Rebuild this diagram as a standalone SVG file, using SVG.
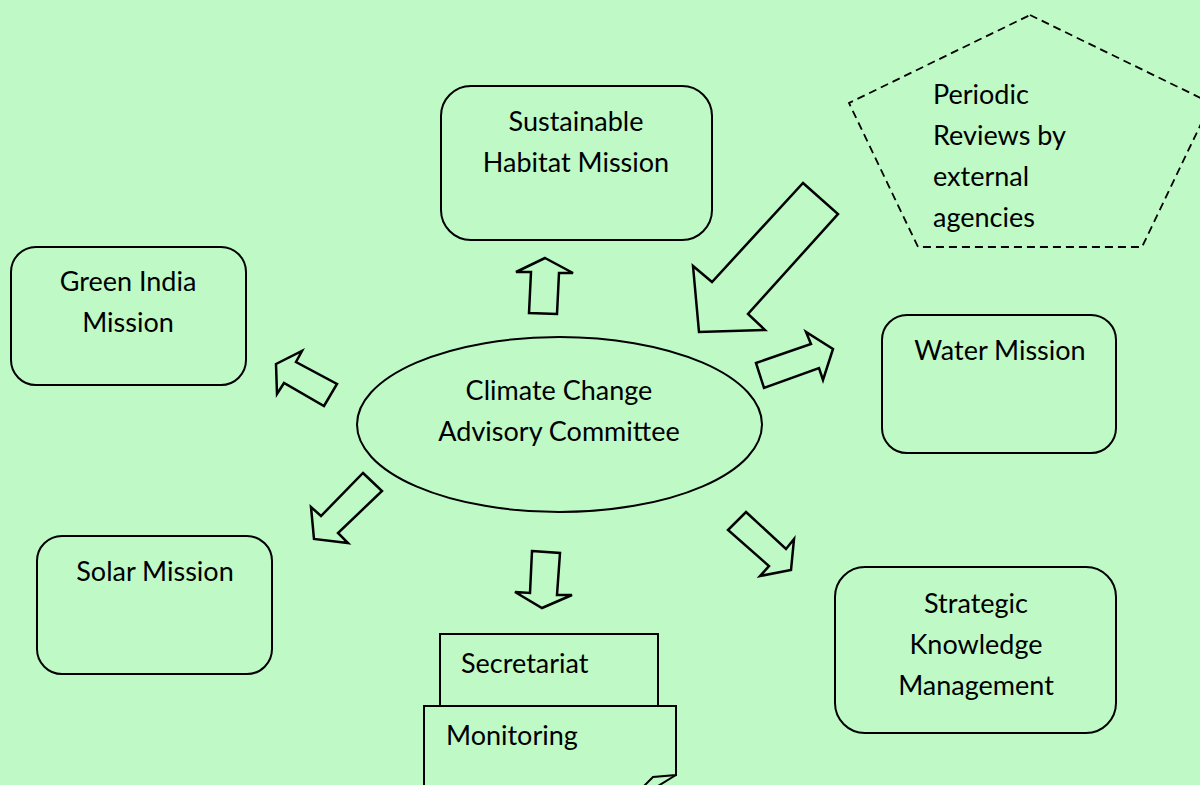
<svg xmlns="http://www.w3.org/2000/svg" width="1200" height="785" viewBox="0 0 1200 785">
<style>
.bg{fill:#BFFAC6}
.box{fill:none;stroke:#000;stroke-width:2}
.arr{fill:none;stroke:#000;stroke-width:2.5;stroke-linejoin:miter}
.dash{fill:none;stroke:#000;stroke-width:1.8;stroke-dasharray:8 5}
text{font-family:Lato,"Liberation Sans",sans-serif;font-size:27px;fill:#000}
.c{text-anchor:middle}
</style>
<rect class="bg" x="0" y="0" width="1200" height="785"/>
<g id="sustainable">
<rect class="box" x="441" y="86" width="271" height="154" rx="30"/>
<text class="c" x="576" y="131">Sustainable</text>
<text class="c" x="576" y="172">Habitat Mission</text>
</g>
<g id="periodic">
<polygon class="dash" points="1030,15 1211,103 1142,247 918,247 849,103"/>
<text x="933" y="104">Periodic</text>
<text x="933" y="145">Reviews by</text>
<text x="933" y="186">external</text>
<text x="933" y="227">agencies</text>
</g>
<g id="green">
<rect class="box" x="11" y="247" width="235" height="138" rx="25"/>
<text class="c" x="128" y="291">Green India</text>
<text class="c" x="128" y="332">Mission</text>
</g>
<g id="water">
<rect class="box" x="882" y="315" width="234" height="138" rx="25"/>
<text class="c" x="1000" y="360">Water Mission</text>
</g>
<g id="committee">
<ellipse class="box" cx="559.5" cy="424.5" rx="202.5" ry="87.5"/>
<text class="c" x="559" y="400">Climate Change</text>
<text class="c" x="559" y="441">Advisory Committee</text>
</g>
<g id="solar">
<rect class="box" x="37" y="536" width="235" height="138" rx="25"/>
<text class="c" x="155" y="581">Solar Mission</text>
</g>
<g id="strategic">
<rect class="box" x="835" y="567" width="281" height="166" rx="30"/>
<text class="c" x="976" y="613">Strategic</text>
<text class="c" x="976" y="654">Knowledge</text>
<text class="c" x="976" y="695">Management</text>
</g>
<g id="secretariat">
<rect class="box" x="440" y="634" width="218" height="72"/>
<text x="461" y="673">Secretariat</text>
</g>
<g id="monitoring">
<path class="box" d="M424,786 L424,706 L676,706 L676,775 L653,777 L644,786"/>
<path class="box" d="M676,775 L658,786"/>
<text x="446" y="745">Monitoring</text>
</g>
<g id="connectors">
<polygon class="arr" points="545,258 573,273 559,273 557,314 529,313 531,272 516,272"/>
<polygon class="arr" points="803,183 838,214 748,314 765,330 699,332 693,266 712,282"/>
<polygon class="arr" points="276,364 302,351 296,362 337,384 324,406 284,383 277,394"/>
<polygon class="arr" points="756,363 811,344 806,332 833,349 823,380 819,368 764,388"/>
<polygon class="arr" points="363,473 382,491 338,533 348,543 314,539 311,507 321,516"/>
<polygon class="arr" points="532,551 560,553 557,595 572,595 542,608 515,592 530,593"/>
<polygon class="arr" points="746,512 786,549 794,539 791,570 760,576 769,566 728,530"/>
</g>
</svg>
